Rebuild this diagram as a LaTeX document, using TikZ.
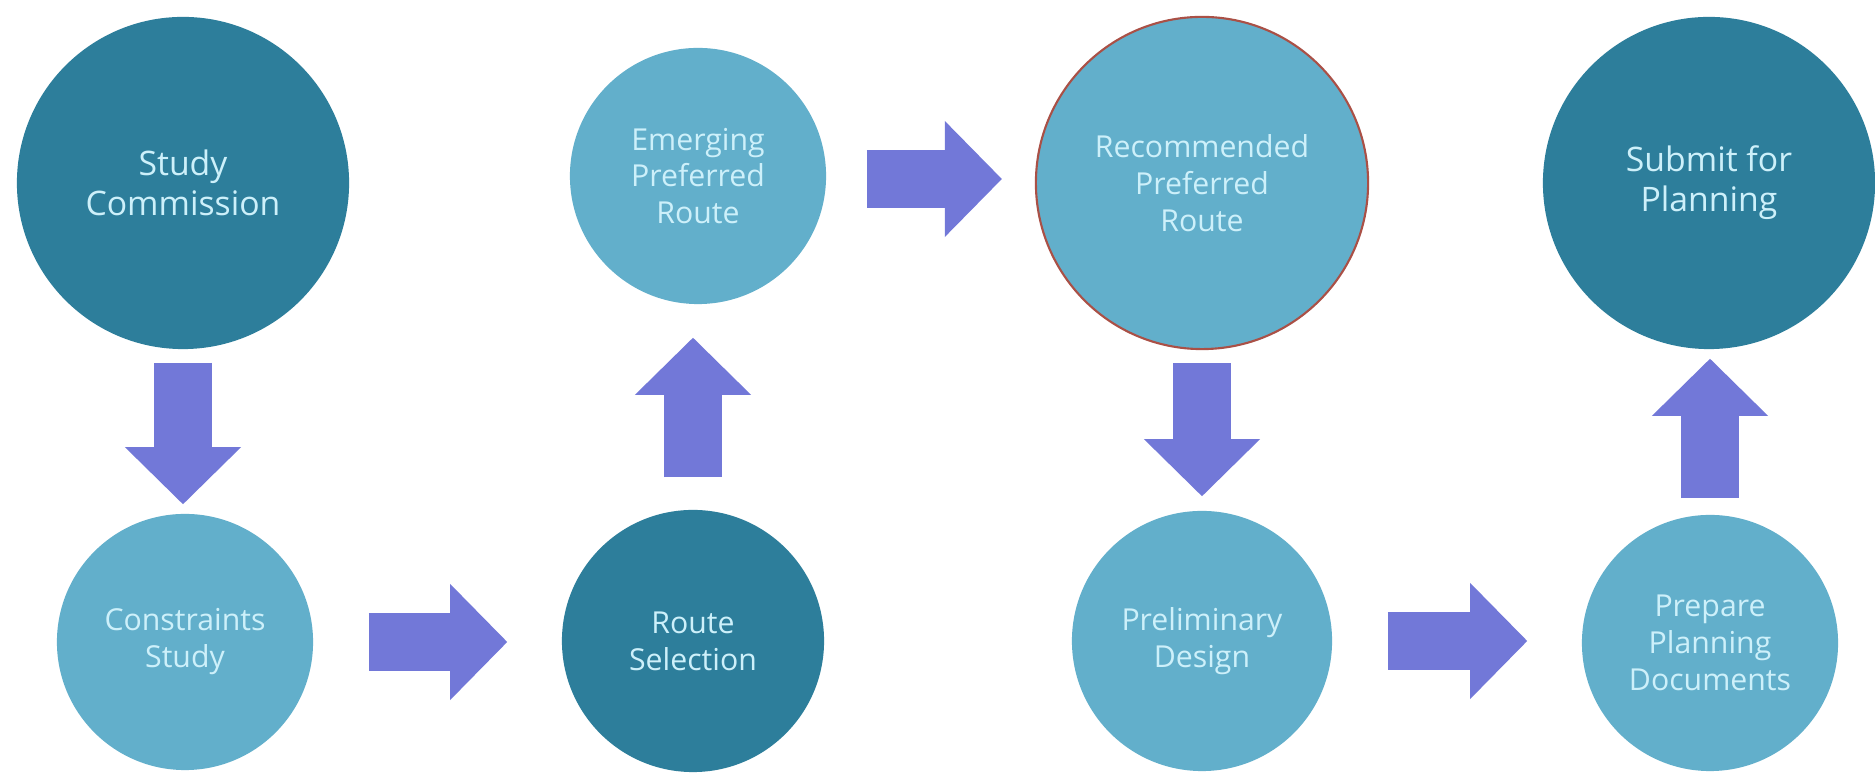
\documentclass[tikz,border=0pt]{standalone}
\usepackage{fontspec}
\setmainfont{Open Sans}
\usetikzlibrary{arrows.meta,calc}
\definecolor{darkteal}{RGB}{45,126,155}
\definecolor{lightteal}{RGB}{98,175,203}
\definecolor{arrowblue}{RGB}{114,120,216}
\definecolor{paletext}{RGB}{205,240,250}
\definecolor{redline}{RGB}{170,80,70}
\tikzset{
  stage/.style={circle, inner sep=0pt, align=center, text=paletext},
  darkstage/.style={stage, fill=darkteal},
  lightstage/.style={stage, fill=lightteal},
  bigtext/.style={font=\fontsize{9.6}{11.3}\selectfont},
  smalltext/.style={font=\fontsize{8.6}{10.5}\selectfont},
  blk/.style={draw=arrowblue, line width=0.58cm,
    -{Triangle[width=1.16cm,length=0.57cm,line width=0pt,fill=arrowblue]}},
}
\begin{document}
\begin{tikzpicture}[x=0.01cm,y=-0.01cm]
\useasboundingbox (0,0) rectangle (1875,774);
\fill[white] (0,0) rectangle (1875,774);
% nodes
\node[darkstage, bigtext, minimum size=3.32cm] (sc) at (183,183) {Study\\Commission};
\node[lightstage, smalltext, minimum size=2.56cm] (cs) at (185,642) {Constraints\\Study};
\node[darkstage, smalltext, minimum size=2.62cm] (rs) at (693,641) {Route\\Selection};
\node[lightstage, smalltext, minimum size=2.56cm] (ep) at (698,176) {Emerging\\Preferred\\Route};
\node[lightstage, smalltext, minimum size=3.32cm, draw=redline, line width=0.6pt] (rp) at (1202,183) {Recommended\\Preferred\\Route};
\node[lightstage, smalltext, minimum size=2.60cm] (pd) at (1202,641) {Preliminary\\Design};
\node[lightstage, smalltext, minimum size=2.56cm] (pp) at (1710,643) {Prepare\\Planning\\Documents};
\node[darkstage, bigtext, minimum size=3.32cm] (sp) at (1709,183) {Submit for\\Planning};
% block arrows
\draw[blk] ($(sc.south)+(0,-0.13cm)$) -- ($(sc.south |- cs.north)+(0,0.09cm)$);
\draw[blk] ($(cs.east)+(0.55cm,0)$) -- ($(cs.east -| rs.west)+(-0.54cm,0)$);
\draw[blk] ($(rs.north)+(0,0.32cm)$) -- ($(rs.north |- ep.south)+(0,-0.33cm)$);
\draw[blk] ($(ep.east)+(0.40cm,-0.03cm)$) -- ($(ep.east -| rp.west)+(-0.33cm,-0.03cm)$);
\draw[blk] ($(rp.south)+(0,-0.13cm)$) -- ($(rp.south |- pd.north)+(0,0.14cm)$);
\draw[blk] ($(pd.east)+(0.55cm,0)$) -- ($(pd.east -| pp.west)+(-0.54cm,0)$);
\draw[blk] ($(pp.north)+(0,0.16cm)$) -- ($(pp.north |- sp.south)+(0,-0.09cm)$);
\end{tikzpicture}
\end{document}
